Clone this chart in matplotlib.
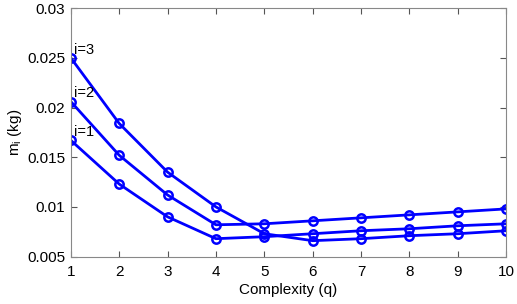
import matplotlib
matplotlib.use("Agg")
import matplotlib.pyplot as plt

plt.rcParams['font.family'] = ['Liberation Sans', 'DejaVu Sans']

# complexity levels
q = [1, 2, 3, 4, 5, 6, 7, 8, 9, 10]

# mass values for each i
m_i1 = [0.0167, 0.0123, 0.0090, 0.0068, 0.0070, 0.0073, 0.0076, 0.0078, 0.0081, 0.0083]
m_i2 = [0.0206, 0.0152, 0.0112, 0.0082, 0.0083, 0.0086, 0.0089, 0.0092, 0.0095, 0.0098]
m_i3 = [0.0250, 0.0184, 0.0135, 0.0100, 0.0073, 0.0066, 0.0068, 0.0071, 0.0073, 0.0076]

series = [m_i1, m_i2, m_i3]
labels = ["i=1", "i=2", "i=3"]

fig = plt.figure(figsize=(5.17, 3.04), dpi=100)
ax = fig.add_axes([0.137, 0.156, 0.842, 0.817])

for vals, lab in zip(series, labels):
    ax.plot(q, vals, color='#0000ff', linewidth=2, marker='o', markersize=6,
            markerfacecolor='none', markeredgewidth=1.8)
    ax.annotate(lab, (q[0], vals[0]), xytext=(2, 3), textcoords='offset points',
                fontsize=10.5)

ax.set_xlim(1, 10)
ax.set_ylim(0.005, 0.03)
ax.set_xticks(q)
ax.set_yticks([0.005, 0.01, 0.015, 0.02, 0.025, 0.03])
ax.set_yticklabels(['0.005', '0.01', '0.015', '0.02', '0.025', '0.03'])
ax.tick_params(direction='in', top=True, right=True, labelsize=11, length=4,
               color='#555555')
ax.tick_params(axis='x', pad=6)
ax.tick_params(axis='y', pad=4)
for s in ax.spines.values():
    s.set_color('#888888')
ax.set_xlabel('Complexity (q)', fontsize=11, labelpad=3)
ax.set_ylabel('m$_\\mathregular{i}$ (kg)', fontsize=11, labelpad=2)

fig.savefig('out.png', dpi=100)
